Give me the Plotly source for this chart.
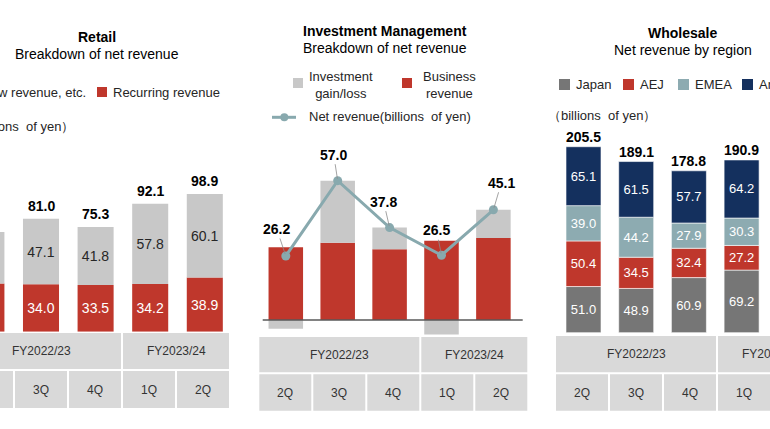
import plotly.graph_objects as go

W, H = 770, 429
FONT = "Liberation Sans, Arial, sans-serif"

# ---------------- data ----------------
quarters = ["2Q", "3Q", "4Q", "1Q", "2Q"]
fiscal_years = ["FY2022/23", "FY2023/24"]
fy_spans = [3, 2]

retail_flow = [36.9, 47.1, 41.8, 57.8, 60.1]
retail_recurring = [34.7, 34.0, 33.5, 34.2, 38.9]
retail_total = [71.6, 81.0, 75.3, 92.1, 98.9]

im_business = [29.8, 31.6, 28.9, 32.4, 33.6]
im_investment = [-3.6, 25.4, 8.9, -5.9, 11.5]
im_net = [26.2, 57.0, 37.8, 26.5, 45.1]

ws_japan = [51.0, 48.9, 60.9, 69.2]
ws_aej = [50.4, 34.5, 32.4, 27.2]
ws_emea = [39.0, 44.2, 27.9, 30.3]
ws_americas = [65.1, 61.5, 57.7, 64.2]
ws_total = [205.5, 189.1, 178.8, 190.9]

# ---------------- style ----------------
RED = "#BF372C"
LGRAY = "#C8C8C8"
DGRAY = "#767676"
TEAL = "#8DABB1"
NAVY = "#14305E"
LINE = "#88A9AE"
CELL = "#D9D9D9"
TXT = "#262626"


def fx(p):
    return p / W


def fy(p):
    return 1 - p / H


def xaxis_cfg(px0, px1, c0, step):
    # domain in pixels, category 0 centre at c0, spacing step
    return dict(domain=[fx(px0), fx(px1)],
                range=[(px0 - c0) / step, (px1 - c0) / step],
                visible=False, fixedrange=True)


def yaxis_cfg(pbottom, ptop, pzero, scale):
    return dict(domain=[fy(pbottom), fy(ptop)],
                range=[(pzero - pbottom) / scale, (pzero - ptop) / scale],
                visible=False, fixedrange=True)


fig = go.Figure()

# ---------------- Retail ----------------
xr = list(range(len(retail_total)))
fig.add_bar(x=xr, y=retail_recurring, width=0.66, marker=dict(color=RED, line=dict(width=0)),
            text=[f"{v:.1f}" for v in retail_recurring], textposition="inside",
            insidetextanchor="middle", textangle=0,
            textfont=dict(color="white", size=14, family=FONT), xaxis="x", yaxis="y")
fig.add_bar(x=xr, y=retail_flow, width=0.66, marker=dict(color=LGRAY, line=dict(width=0)),
            text=[f"{v:.1f}" for v in retail_flow], textposition="inside",
            insidetextanchor="middle", textangle=0,
            textfont=dict(color=TXT, size=14, family=FONT), xaxis="x", yaxis="y")

# ---------------- Investment Management ----------------
xi = list(range(len(im_net)))
fig.add_bar(x=xi, y=im_business, width=0.665, marker=dict(color=RED, line=dict(width=0)),
            xaxis="x2", yaxis="y2")
fig.add_bar(x=xi, y=im_investment, width=0.665, marker=dict(color=LGRAY, line=dict(width=0)),
            xaxis="x2", yaxis="y2")
fig.add_scatter(x=xi, y=im_net, mode="lines+markers",
                line=dict(color=LINE, width=3), marker=dict(color=LINE, size=9),
                xaxis="x2", yaxis="y2", cliponaxis=False)

# ---------------- Wholesale ----------------
xw = list(range(len(ws_total)))
for vals, col in [(ws_japan, DGRAY), (ws_aej, RED), (ws_emea, TEAL), (ws_americas, NAVY)]:
    fig.add_bar(x=xw, y=vals, width=0.664, marker=dict(color=col, line=dict(width=0.6, color="white")),
                text=[f"{v:.1f}" for v in vals], textposition="inside",
                insidetextanchor="middle", textangle=0,
                textfont=dict(color="white", size=13, family=FONT), xaxis="x3", yaxis="y3")

annotations = []
shapes = []

# totals
for i, t in enumerate(retail_total):
    annotations.append(dict(x=i, y=t, xref="x", yref="y", text=f"<b>{t:.1f}</b>",
                            showarrow=False, yanchor="bottom", yshift=3,
                            font=dict(size=14, color="#000", family=FONT)))
for i, t in enumerate(ws_total):
    annotations.append(dict(x=i, y=t, xref="x3", yref="y3", text=f"<b>{t:.1f}</b>",
                            showarrow=False, yanchor="bottom", yshift=0,
                            font=dict(size=14, color="#000", family=FONT)))

# IM net revenue labels with leader lines
im_offsets = [(-9, -27), (-4, -26), (-6, -26), (-5, -25), (8, -27)]
for i, v in enumerate(im_net):
    ax, ay = im_offsets[i]
    annotations.append(dict(x=i, y=v, xref="x2", yref="y2", text=f"<b>{v:.1f}</b>",
                            showarrow=True, arrowhead=0, arrowwidth=0.8, arrowcolor="#8c8c8c",
                            ax=ax, ay=ay, standoff=2,
                            font=dict(size=14, color="#000", family=FONT)))

# zero line for IM
shapes.append(dict(type="line", xref="x2 domain", yref="y2", x0=0, x1=1, y0=0, y1=0,
                   line=dict(color="#595959", width=1.5), layer="above"))


def text(x, y, s, size=13, anchor="center", color=TXT, bold=False):
    if bold:
        s = f"<b>{s}</b>"
    annotations.append(dict(x=fx(x), y=fy(y), xref="paper", yref="paper", text=s,
                            showarrow=False, xanchor=anchor, yanchor="middle",
                            font=dict(size=size, color=color, family=FONT)))


def square(x0, y0, size, color):
    shapes.append(dict(type="rect", xref="paper", yref="paper",
                       x0=fx(x0), x1=fx(x0 + size), y0=fy(y0 + size), y1=fy(y0),
                       fillcolor=color, line=dict(width=0)))


def table(left, cw, top, mid, bottom):
    start = 0
    for fyname, span in zip(fiscal_years, fy_spans):
        x0 = left + start * cw
        x1 = left + (start + span) * cw
        shapes.append(dict(type="rect", xref="paper", yref="paper",
                           x0=fx(x0 + 1), x1=fx(x1 - 1), y0=fy(mid - 1), y1=fy(top + 1),
                           fillcolor=CELL, line=dict(width=0), layer="below"))
        text((x0 + x1) / 2, (top + mid) / 2, fyname, size=12, color="#333333")
        start += span
    for k, q in enumerate(quarters):
        x0 = left + k * cw
        x1 = x0 + cw
        shapes.append(dict(type="rect", xref="paper", yref="paper",
                           x0=fx(x0 + 1), x1=fx(x1 - 1), y0=fy(bottom - 1), y1=fy(mid + 1),
                           fillcolor=CELL, line=dict(width=0), layer="below"))
        text((x0 + x1) / 2, (mid + bottom) / 2, q, size=12, color="#333333")


# Retail header
text(97.5, 37, "Retail", size=14, color="#000", bold=True)
text(97.5, 54, "Breakdown of net revenue", size=14, color="#000")
square(-37, 87, 10, LGRAY)
text(-22, 92, "Flow revenue, etc.", anchor="left")
square(97, 87, 10, RED)
text(111, 92, "Recurring revenue", anchor="left")
text(76, 126, "（billions\u00a0 of yen）", anchor="right")
table(-40, 54, 332, 370, 409)

# IM header
text(385, 31, "Investment Management", size=14, color="#000", bold=True)
text(385, 48, "Breakdown of net revenue", size=14, color="#000")
square(293, 78, 10, LGRAY)
text(341, 85, "Investment<br>gain/loss")
square(402, 78, 10, RED)
text(449, 84.5, "Business<br>revenue")
shapes.append(dict(type="line", xref="paper", yref="paper", x0=fx(272), x1=fx(296),
                   y0=fy(117.3), y1=fy(117.3), line=dict(color=LINE, width=3)))
shapes.append(dict(type="circle", xref="paper", yref="paper", x0=fx(280.3), x1=fx(288.3),
                   y0=fy(121.3), y1=fy(113.3), fillcolor=LINE, line=dict(width=0)))
text(307, 117, "Net revenue(billions\u00a0 of yen)", anchor="left")
table(258.3, 54, 336, 373.3, 411.7)

# Wholesale header
text(682.5, 33, "Wholesale", size=14, color="#000", bold=True)
text(682.5, 50, "Net revenue by region", size=14, color="#000")
for sx, lab, col in [(559, "Japan", DGRAY), (623, "AEJ", RED), (678, "EMEA", TEAL), (742, "Americas", NAVY)]:
    square(sx, 79, 11, col)
    text(sx + 15, 84.5, lab, anchor="left")
text(546, 116, "（billions\u00a0 of yen）", anchor="left")
table(555, 54, 335, 373.3, 411.7)

fig.update_layout(
    width=W, height=H, margin=dict(l=0, r=0, t=0, b=0),
    paper_bgcolor="white", plot_bgcolor="rgba(0,0,0,0)",
    showlegend=False, barmode="relative",
    font=dict(family=FONT, color=TXT),
    xaxis=xaxis_cfg(0, 236, 41 - 54.6, 54.6),
    yaxis=yaxis_cfg(331.7, 140, 331.7, 1.392),
    xaxis2=xaxis_cfg(262.7, 522.7, 285.8, 51.9),
    yaxis2=yaxis_cfg(345, 140, 320, 2.444),
    xaxis3=xaxis_cfg(555, 770, 583.5, 52.7),
    yaxis3=yaxis_cfg(332.7, 130, 332.7, 0.905),
    annotations=annotations, shapes=shapes,
)

fig.write_html("out.html", config={"displayModeBar": False},
               post_script="document.body.style.margin='0';document.body.style.overflow='hidden';")
